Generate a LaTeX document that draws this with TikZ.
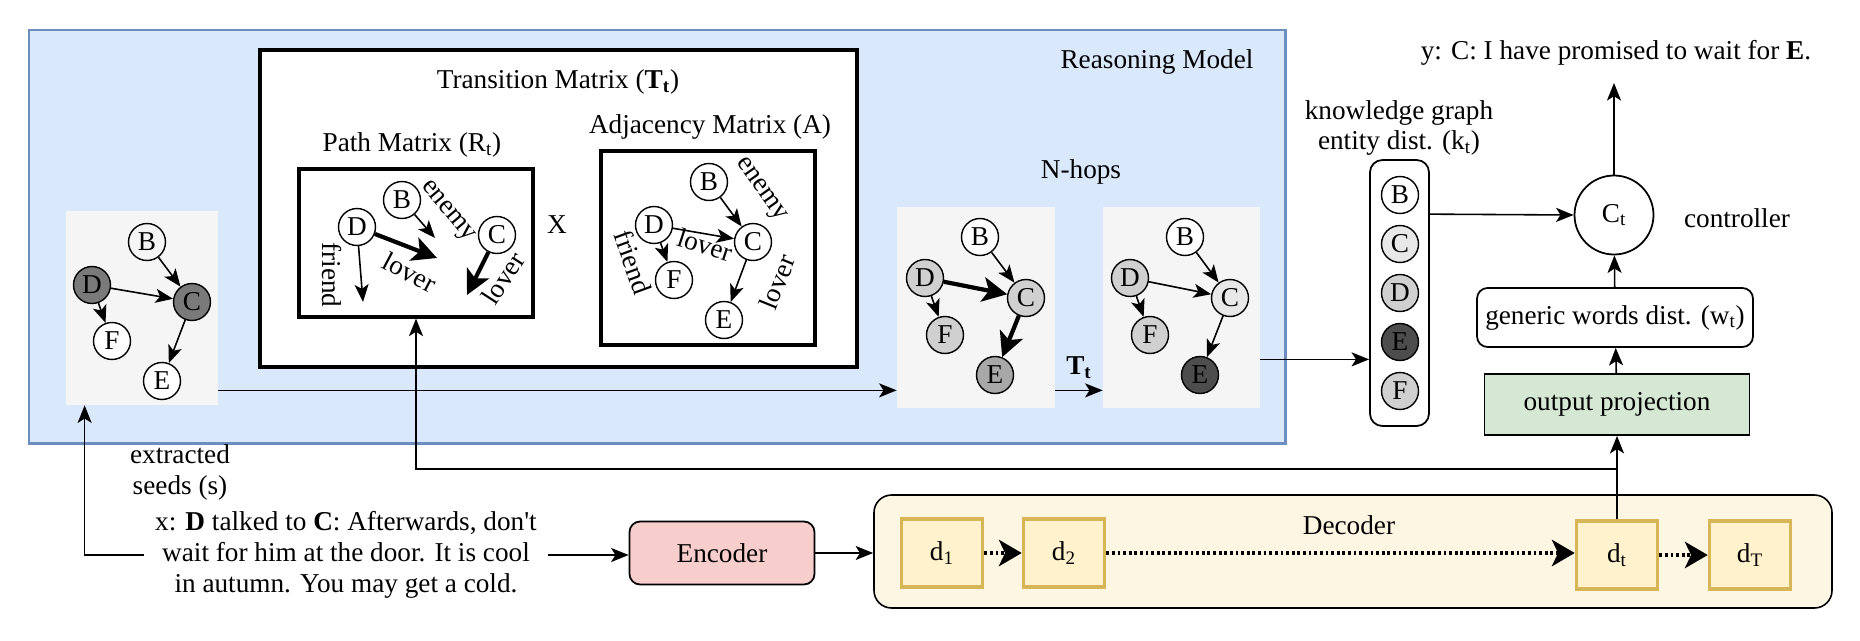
\documentclass[tikz,border=0pt]{standalone}
\usepackage{fontspec}
\setmainfont{Liberation Serif}
\usetikzlibrary{arrows.meta, positioning, fit, calc, backgrounds}

\definecolor{rmfill}{HTML}{DAE8FC}
\definecolor{rmline}{HTML}{6C8EBF}
\definecolor{graybg}{HTML}{F5F5F5}
\definecolor{seeddark}{HTML}{7A7A7A}
\definecolor{hopmid}{HTML}{A8A8A8}
\definecolor{hoplight}{HTML}{D0D0D0}
\definecolor{hoplighter}{HTML}{E8E8E8}
\definecolor{hopdark}{HTML}{4D4D4D}
\definecolor{encfill}{HTML}{F8CECC}
\definecolor{decfill}{HTML}{FDF6E3}
\definecolor{dfill}{HTML}{FFF2CC}
\definecolor{dline}{HTML}{D6B656}
\definecolor{projfill}{HTML}{D5E8D4}

\begin{document}
\begin{tikzpicture}[
  x=0.02cm, y=-0.02cm,
  every node/.append style={font=\fontsize{15.5}{17.6}\selectfont},
  reason/.style={draw=rmline, fill=rmfill, line width=1.7pt, inner sep=0},
  frame/.style={draw, fill=white, line width=1.8pt, inner sep=0},
  graybox/.style={fill=graybg, inner sep=0},
  decbox/.style={draw, fill=decfill, rounded corners=10pt, line width=0.9pt, inner sep=0},
  ent/.style={circle, draw, line width=0.8pt, minimum size=0.74cm, inner sep=0},
  rbox/.style={draw, rounded corners=6pt, line width=1pt, align=center},
  dstep/.style={draw=dline, fill=dfill, line width=2pt, minimum width=1.62cm, minimum height=1.36cm},
  arr/.style={-{Stealth[length=10pt, width=8pt, inset=2.5pt]}, line width=0.9pt},
  fat/.style={-{Stealth[length=14pt, width=14pt, inset=3.5pt]}, line width=2.4pt},
  dotarr/.style={-{Stealth[length=13pt, width=15pt, inset=3.5pt]}, line width=2.1pt, dash pattern=on 1.6pt off 1.6pt}
]
  \useasboundingbox (0,0) rectangle (1860,640);

  % ----- Containers (background) -----
  \begin{pgfonlayer}{background}
    \node[reason, fit={(29,30)(1285,443)}] (rm) {};
    \node[frame, fit={(260,50)(857,367)}] (trans) {};
    \node[frame, fit={(299,169)(533,317)}] (path) {};
    \node[frame, fit={(601,151)(815,345)}] (adj) {};
    \node[graybox, fit={(66,211)(218,405)}] (seeds) {};
    \node[graybox, fit={(897,207)(1055,408)}] (hop1) {};
    \node[graybox, fit={(1103,207)(1260,408)}] (hop2) {};
    \node[decbox, fit={(874,495)(1832,608)}] (dec) {};
  \end{pgfonlayer}

  % ----- Titles -----
  \node (rmtitle) at (1157,62) {Reasoning Model};
  \node (transtitle) at (558,82) {Transition Matrix (\textbf{T\textsubscript{t}})};
  \node (pathtitle) at (412,145) {Path Matrix (R\textsubscript{t})};
  \node (adjtitle) at (710,127) {Adjacency Matrix (A)};
  \node (times) at (557,225) {X};
  \node (nhops) at (1081,172) {N-hops};

  % ----- Extracted seeds -----
  \node[ent] (s-B) at (147,242) {B};
  \node[ent, fill=seeddark] (s-D) at (92,285) {D};
  \node[ent, fill=seeddark] (s-C) at (192,302) {C};
  \node[ent, fill=white] (s-F) at (112,341) {F};
  \node[ent, fill=white] (s-E) at (162,381) {E};
  \draw[arr] (s-B) -- (s-C);
  \draw[arr] (s-D) -- (s-C);
  \draw[arr] (s-D) -- (s-F);
  \draw[arr] (s-C) -- (s-E);

  % ----- Path matrix -----
  \node[ent] (p-B) at (402,200) {B};
  \node[ent] (p-D) at (357,227) {D};
  \node[ent] (p-C) at (497,235) {C};
  \coordinate (p-b) at (435,238);
  \coordinate (p-d) at (437,258);
  \coordinate (p-c) at (467,295);
  \coordinate (p-f) at (363,302);
  \draw[arr] (p-B) -- (p-b);
  \draw[fat] (p-D) -- (p-d);
  \draw[fat] (p-C) -- (p-c);
  \draw[arr] (p-D) -- (p-f);
  \node[rotate=-50, inner sep=1pt] (p-enemy) at (447,212) {enemy};
  \node[rotate=-28, inner sep=1pt] (p-lover1) at (410,272) {lover};
  \node[rotate=-90, inner sep=1pt] (p-friend) at (332,275) {friend};
  \node[rotate=57, inner sep=1pt] (p-lover2) at (503,278) {lover};

  % ----- Adjacency matrix -----
  \node[ent] (a-B) at (709,182) {B};
  \node[ent] (a-D) at (654,225) {D};
  \node[ent] (a-C) at (753,242) {C};
  \node[ent] (a-F) at (674,280) {F};
  \node[ent] (a-E) at (724,320) {E};
  \draw[arr] (a-B) -- (a-C);
  \draw[arr] (a-D) -- (a-C);
  \draw[arr] (a-D) -- (a-F);
  \draw[arr] (a-C) -- (a-E);
  \node[rotate=-55, inner sep=1pt] (a-enemy) at (760,190) {enemy};
  \node[rotate=-18, inner sep=1pt] (a-lover1) at (705,245) {lover};
  \node[rotate=-70, inner sep=1pt] (a-friend) at (633,262) {friend};
  \node[rotate=68, inner sep=1pt] (a-lover2) at (777,282) {lover};

  % ----- N-hops -----
  \node[ent, fill=white] (h-B) at (980,237) {B};
  \node[ent, fill=hoplight] (h-D) at (925,278) {D};
  \node[ent, fill=hoplight] (h-C) at (1026,298) {C};
  \node[ent, fill=hoplight] (h-F) at (945,335) {F};
  \node[ent, fill=hopmid] (h-E) at (995,375) {E};
  \draw[arr] (h-B) -- (h-C);
  \draw[fat] (h-D) -- (h-C);
  \draw[arr] (h-D) -- (h-F);
  \draw[fat] (h-C) -- (h-E);

  \node[ent, fill=white] (g-B) at (1185,237) {B};
  \node[ent, fill=hoplight] (g-D) at (1130,278) {D};
  \node[ent, fill=hoplighter] (g-C) at (1230,298) {C};
  \node[ent, fill=hoplight] (g-F) at (1150,335) {F};
  \node[ent, fill=hopdark] (g-E) at (1200,375) {E};
  \draw[arr] (g-B) -- (g-C);
  \draw[arr] (g-D) -- (g-C);
  \draw[arr] (g-D) -- (g-F);
  \draw[arr] (g-C) -- (g-E);

  % ----- Knowledge graph entity dist. -----
  \node[align=center] (kgtitle) at (1399,128) {knowledge graph\\entity dist. (k\textsubscript{t})};
  \node[draw, rounded corners=7pt, line width=1pt, minimum width=1.18cm, minimum height=5.32cm] (kg) at (1399.5,293) {};
  \foreach \l/\c [count=\i] in {B/white, C/hoplighter, D/hoplight, E/hopdark, F/hoplight}
    \node[ent, fill=\c] (kg-\l) at (1400,146+49*\i) {\l};

  % ----- Controller and output side -----
  \node[circle, draw, line width=1pt, minimum size=1.58cm, inner sep=0] (ct) at (1614,215) {C\textsubscript{t}};
  \node (ctl) at (1737,218) {controller};
  \node (ytext) at (1616,53) {y: C: I have promised to wait for \textbf{E}.};
  \coordinate (ytip) at (1614,83);
  \node[rbox, minimum width=5.52cm, minimum height=1.18cm] (gen) at (1615,317.5) {generic words dist. (w\textsubscript{t})};
  \node[draw, fill=projfill, line width=1pt, minimum width=5.3cm, minimum height=1.22cm] (proj) at (1617,404.5) {output projection};

  % ----- Input, encoder, decoder -----
  \node[align=center] (seedlbl) at (180,472) {extracted\\seeds (s)};
  \node[align=center, inner sep=0.22cm] (xtext) at (346,555) {x: \textbf{D} talked to \textbf{C}: Afterwards, don\textquotesingle t\\wait for him at the door. It is cool\\in autumn. You may get a cold.};
  \node[rbox, fill=encfill, minimum width=3.7cm, minimum height=1.26cm] (enc) at (722,553) {Encoder};
  \node (dectitle) at (1349,525) {Decoder};
  \node[dstep] (d1) at (942,553) {d\textsubscript{1}};
  \node[dstep] (d2) at (1064,553) {d\textsubscript{2}};
  \node[dstep] (dt) at (1617,555) {d\textsubscript{t}};
  \node[dstep] (dT) at (1750,555) {d\textsubscript{T}};
  \coordinate (split) at (1617,469);

  % ----- Flows -----
  \draw[arr] ([yshift=0.3cm]seeds.south east) -- ([yshift=0.3cm]seeds.south east -| hop1.west);
  \draw[arr] ([yshift=0.36cm]hop1.south east) -- ([yshift=0.36cm]hop1.south east -| hop2.west)
    node[midway, above=0.1cm] {\textbf{T\textsubscript{t}}};
  \draw[arr] ([yshift=0.98cm]hop2.south east) -- ([yshift=0.98cm]hop2.south east -| kg.west);
  \draw[arr] ([yshift=-1.1cm]kg.north east) -- (ct.west);
  \draw[arr] (ct) -- (ytip);
  \draw[arr] (gen) -- (ct);
  \draw[arr] (proj) -- (gen);
  \draw[arr] (dt.north) -- (proj.south);
  \draw[arr] (split) -| (path.south);
  \draw[arr] (xtext.west) -| ([xshift=0.38cm]seeds.south west);
  \draw[arr] (xtext.east) -- (xtext.east -| enc.west);
  \draw[arr] (enc.east) -- (enc.east -| dec.west);
  \draw[dotarr] (d1) -- (d2);
  \draw[dotarr] (d2) -- (d2 -| dt.west);
  \draw[dotarr] (dt) -- (dT);
\end{tikzpicture}
\end{document}
